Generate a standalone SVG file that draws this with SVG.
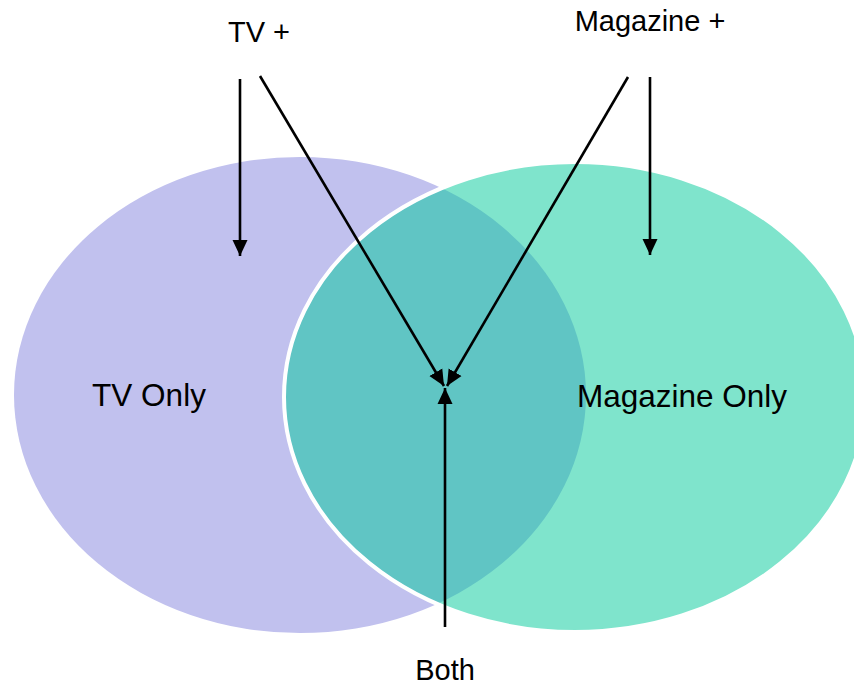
<svg xmlns="http://www.w3.org/2000/svg" width="854" height="687" viewBox="0 0 854 687">
  <style>
    .lbl { font-family: "Liberation Sans", Arial, sans-serif; fill: #000; text-anchor: middle; }
    .outer { font-size: 29px; }
    .inner { font-size: 31.5px; }
    .conn { stroke: #000; stroke-width: 2.6; fill: none; marker-end: url(#arrow); }
  </style>
  <defs>
    <marker id="arrow" markerUnits="userSpaceOnUse" markerWidth="17" markerHeight="17" viewBox="0 0 17 17" refX="16" refY="8.5" orient="auto">
      <path d="M0,1 L16,8.5 L0,16 Z" fill="#000"/>
    </marker>
  </defs>
  <rect width="854" height="687" fill="#fff"/>
  <g id="tv-only">
    <ellipse cx="300" cy="395" rx="286" ry="238" fill="#c1c1ee"/>
    <text class="lbl inner" x="149" y="406">TV Only</text>
  </g>
  <g id="magazine-only">
    <ellipse cx="575" cy="397" rx="291" ry="235" fill="#00c999" fill-opacity="0.5" stroke="#fff" stroke-width="4"/>
    <text class="lbl inner" x="682" y="407">Magazine Only</text>
  </g>
  <g id="tv-plus">
    <text class="lbl outer" x="259" y="42">TV +</text>
  </g>
  <g id="magazine-plus">
    <text class="lbl outer" x="650" y="31">Magazine +</text>
  </g>
  <g id="both">
    <text class="lbl outer" x="445" y="680">Both</text>
  </g>
  <g id="connectors">
    <line class="conn" x1="240" y1="79" x2="240" y2="256"/>
    <line class="conn" x1="260" y1="76" x2="444" y2="386"/>
    <line class="conn" x1="628" y1="77" x2="447" y2="386"/>
    <line class="conn" x1="650" y1="77" x2="650" y2="255"/>
    <line class="conn" x1="445" y1="627" x2="445" y2="388"/>
  </g>
</svg>
